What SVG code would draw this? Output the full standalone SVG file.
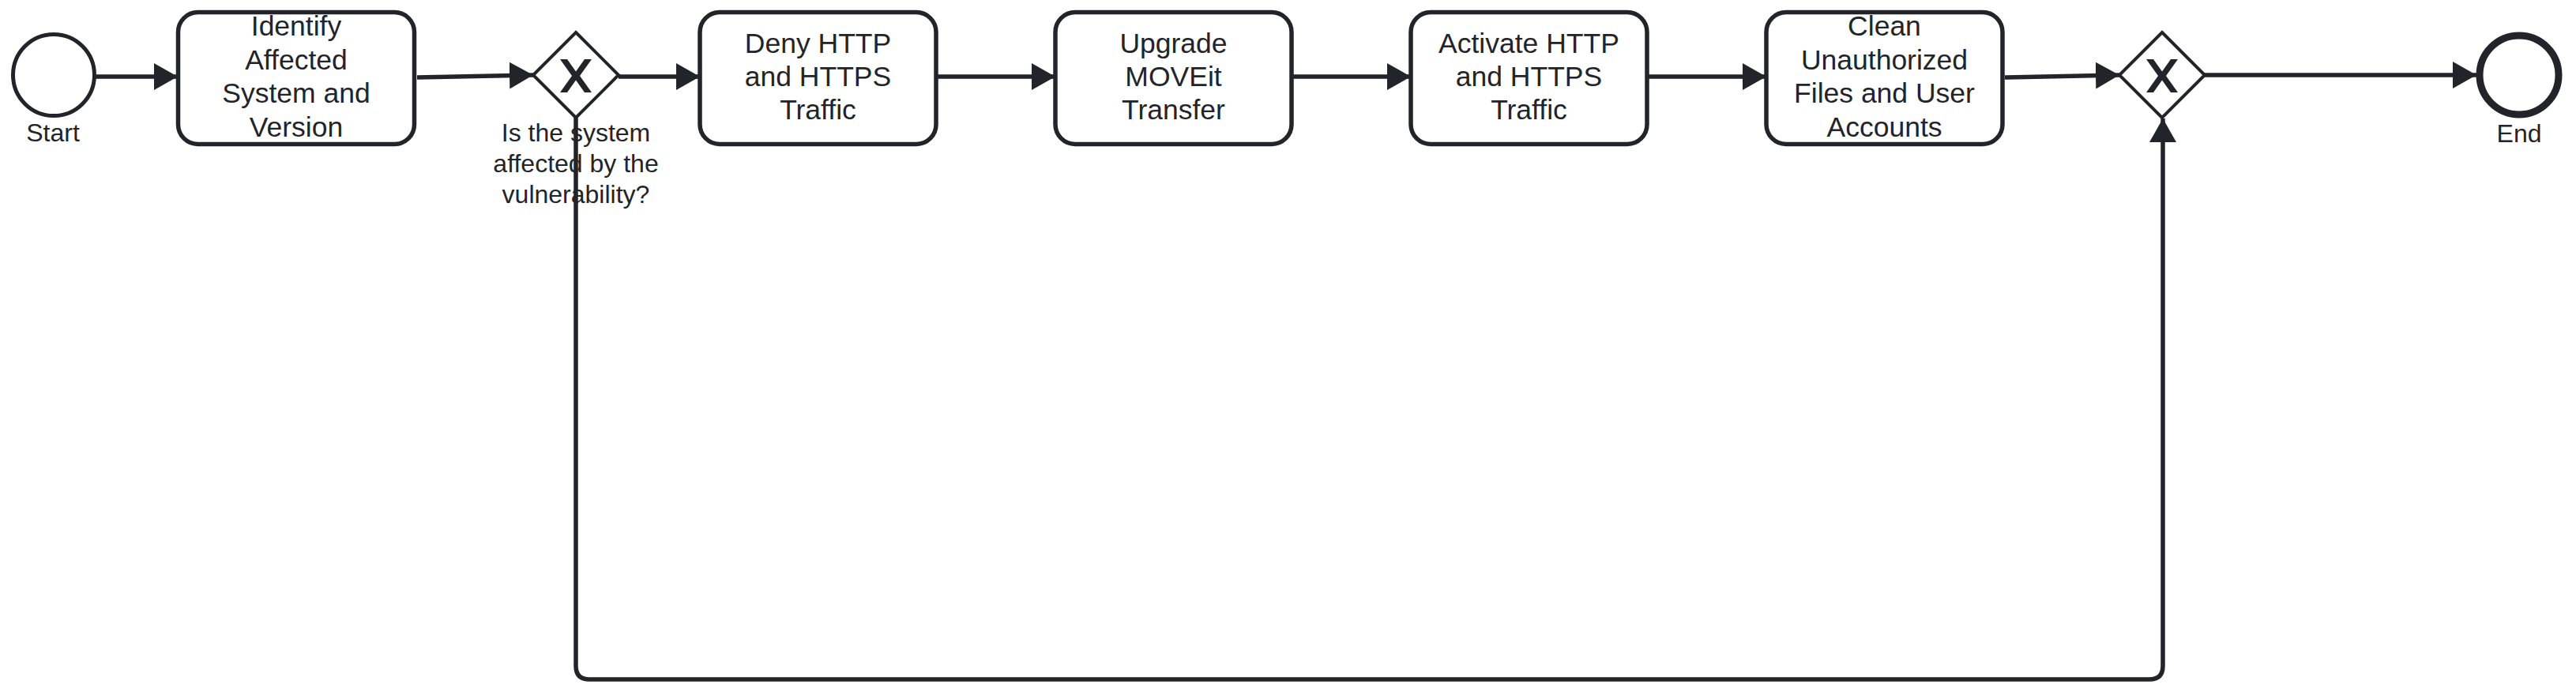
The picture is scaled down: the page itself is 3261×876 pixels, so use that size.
<svg xmlns="http://www.w3.org/2000/svg" width="3261" height="876" viewBox="0 0 3261 876">
<style>
.task{fill:#fff;stroke:#22242a;stroke-width:5.5}
.ev{fill:#fff;stroke:#22242a;stroke-width:5}
.end{fill:#fff;stroke:#22242a;stroke-width:9}
.gw{fill:#fff;stroke:#22242a;stroke-width:4}
.xm{fill:#22242a}
.t{font-family:"Liberation Sans",Arial,sans-serif;font-size:35.5px;fill:#22242a;text-anchor:middle}
.l{font-family:"Liberation Sans",Arial,sans-serif;font-size:32px;fill:#22242a;text-anchor:middle}
.c{fill:none;stroke:#22242a;stroke-width:5.5;stroke-linejoin:round}
</style>
<defs>
<marker id="arr" viewBox="0 0 30 34" refX="30" refY="17" markerWidth="30" markerHeight="34" markerUnits="userSpaceOnUse" orient="auto">
<path d="M0,0 L30,17 L0,34 Z" fill="#22242a"/>
</marker>
</defs>
<rect width="3261" height="876" fill="#fff"/>
<g id="start">
<circle class="ev" cx="68" cy="95" r="51.5"/>
<text class="l" x="67" y="179">Start</text>
</g>
<g id="task1">
<rect class="task" x="225.5" y="15.5" width="299" height="167" rx="25"/>
<text class="t" x="375" y="45">Identify</text>
<text class="t" x="375" y="87.5">Affected</text>
<text class="t" x="375" y="130">System and</text>
<text class="t" x="375" y="172.5">Version</text>
</g>
<g id="gateway1">
<path class="gw" d="M729,41 L783,95 L729,149 L675,95 Z"/>
<path class="xm" transform="translate(729,96)" d="M-20,-21 L-11,-21 L0,-5.5 L11,-21 L20,-21 L5,0 L20,21 L11,21 L0,5.5 L-11,21 L-20,21 L-5,0 Z"/>
<text class="l" x="729" y="179">Is the system</text>
<text class="l" x="729" y="218">affected by the</text>
<text class="l" x="729" y="257">vulnerability?</text>
</g>
<g id="task2">
<rect class="task" x="886" y="15.5" width="299" height="167" rx="25"/>
<text class="t" x="1035.5" y="67">Deny HTTP</text>
<text class="t" x="1035.5" y="109">and HTTPS</text>
<text class="t" x="1035.5" y="151">Traffic</text>
</g>
<g id="task3">
<rect class="task" x="1336" y="15.5" width="299" height="167" rx="25"/>
<text class="t" x="1485.5" y="67">Upgrade</text>
<text class="t" x="1485.5" y="109">MOVEit</text>
<text class="t" x="1485.5" y="151">Transfer</text>
</g>
<g id="task4">
<rect class="task" x="1786" y="15.5" width="299" height="167" rx="25"/>
<text class="t" x="1935.5" y="67">Activate HTTP</text>
<text class="t" x="1935.5" y="109">and HTTPS</text>
<text class="t" x="1935.5" y="151">Traffic</text>
</g>
<g id="task5">
<rect class="task" x="2236" y="15.5" width="299" height="167" rx="25"/>
<text class="t" x="2385.5" y="45">Clean</text>
<text class="t" x="2385.5" y="87.5">Unauthorized</text>
<text class="t" x="2385.5" y="130">Files and User</text>
<text class="t" x="2385.5" y="172.5">Accounts</text>
</g>
<g id="gateway2">
<path class="gw" d="M2737,41 L2791,95 L2737,149 L2683,95 Z"/>
<path class="xm" transform="translate(2737,96)" d="M-20,-21 L-11,-21 L0,-5.5 L11,-21 L20,-21 L5,0 L20,21 L11,21 L0,5.5 L-11,21 L-20,21 L-5,0 Z"/>
</g>
<g id="end">
<circle class="end" cx="3189" cy="95" r="50"/>
<text class="l" x="3189" y="180">End</text>
</g>
<g id="connectors">
<path class="c" d="M120,97 L225,97" marker-end="url(#arr)"/>
<path class="c" d="M528,98 L675,95" marker-end="url(#arr)"/>
<path class="c" d="M783,97 L886,97" marker-end="url(#arr)"/>
<path class="c" d="M1185,97 L1336,97" marker-end="url(#arr)"/>
<path class="c" d="M1635,97 L1786,97" marker-end="url(#arr)"/>
<path class="c" d="M2085,97 L2236,97" marker-end="url(#arr)"/>
<path class="c" d="M2538,98 L2683,95" marker-end="url(#arr)"/>
<path class="c" d="M2791,95 L3135,95" marker-end="url(#arr)"/>
<path class="c" d="M729,149 L729,843 Q729,860 746,860 L2721,860 Q2738,860 2738,843 L2738,150" marker-end="url(#arr)"/>
</g>
</svg>
